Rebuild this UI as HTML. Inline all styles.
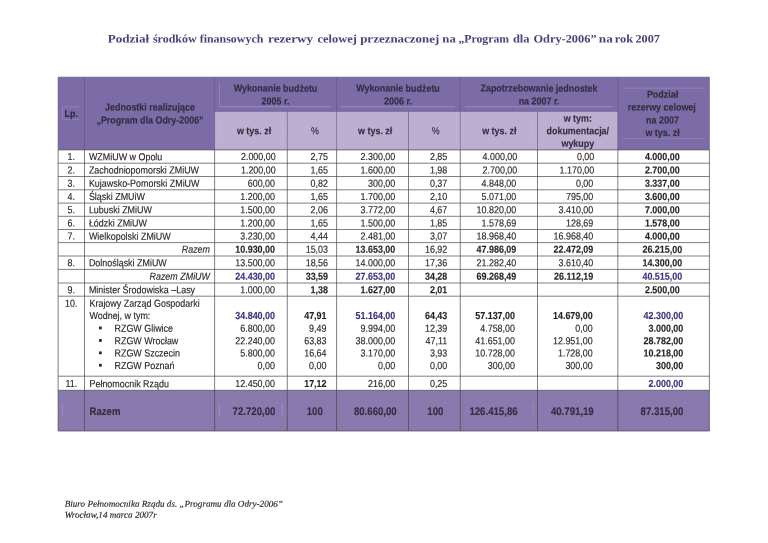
<!DOCTYPE html>
<html lang="pl"><head><meta charset="utf-8"><title>Podział środków finansowych rezerwy celowej</title>
<style>
html,body{margin:0;padding:0;background:#fff}
body{width:768px;height:543px;position:relative;overflow:hidden;font-family:"Liberation Sans",Arial,sans-serif;color:#231f20}
.g{position:absolute;left:0;top:0}
.t{font-size:10.2px;color:#231f20}
.t text{fill:currentColor;stroke:currentColor;stroke-width:.14px}
.h{font-weight:bold;color:#322d40}
.bd{font-weight:bold}
.it{font-style:italic}
.ttl{font-family:"Liberation Serif",serif;font-weight:bold;font-size:11.4px;fill:#47427f;text-anchor:middle}
.ftl{font-family:"Liberation Serif",serif;font-style:italic;font-size:9.12px;fill:#262626;stroke:#262626;stroke-width:.15px}
</style></head><body>
<svg class="g" width="768" height="543" viewBox="0 0 768 543">
<rect x="58.10" y="77.10" width="651.30" height="72.80" fill="#7b6ba6"/>
<rect x="214.60" y="111.40" width="403.20" height="38.50" fill="#bdafd2"/>
<rect x="58.10" y="390.30" width="651.30" height="40.70" fill="#8a79ae"/>
<rect x="99.10" y="326.55" width="2.60" height="2.80" fill="#231f20"/>
<rect x="99.10" y="339.05" width="2.60" height="2.80" fill="#231f20"/>
<rect x="99.10" y="351.45" width="2.60" height="2.80" fill="#231f20"/>
<rect x="99.10" y="363.85" width="2.60" height="2.80" fill="#231f20"/>
<line x1="219.50" y1="82.00" x2="219.50" y2="106.70" stroke="#9a8cc0" stroke-width="0.7"/>
<line x1="219.50" y1="106.80" x2="331.00" y2="106.80" stroke="#9a8cc0" stroke-width="1.1"/>
<line x1="341.25" y1="106.80" x2="455.00" y2="106.80" stroke="#9a8cc0" stroke-width="1.1"/>
<line x1="465.00" y1="106.80" x2="612.60" y2="106.80" stroke="#9a8cc0" stroke-width="1.1"/>
<line x1="622.90" y1="88.20" x2="704.80" y2="88.20" stroke="#9a8cc0" stroke-width="0.7"/>
<line x1="622.90" y1="138.60" x2="704.80" y2="138.60" stroke="#9a8cc0" stroke-width="0.7"/>
<line x1="62.40" y1="106.90" x2="79.25" y2="106.90" stroke="#9a8cc0" stroke-width="0.7"/>
<line x1="62.40" y1="119.40" x2="79.25" y2="119.40" stroke="#9a8cc0" stroke-width="0.7"/>
<line x1="62.40" y1="106.90" x2="62.40" y2="119.40" stroke="#9a8cc0" stroke-width="0.7"/>
<line x1="219.50" y1="124.00" x2="219.50" y2="136.60" stroke="#cbc1de" stroke-width="0.5"/>
<line x1="282.75" y1="124.00" x2="282.75" y2="136.60" stroke="#cbc1de" stroke-width="0.5"/>
<line x1="532.25" y1="124.00" x2="532.25" y2="136.60" stroke="#cbc1de" stroke-width="0.5"/>
<line x1="62.40" y1="403.75" x2="62.40" y2="416.50" stroke="#a899c6" stroke-width="0.7"/>
<line x1="219.30" y1="403.30" x2="219.30" y2="416.70" stroke="#a899c6" stroke-width="0.7"/>
<line x1="282.30" y1="403.30" x2="282.30" y2="416.70" stroke="#a899c6" stroke-width="0.7"/>
<line x1="533.30" y1="403.30" x2="533.30" y2="416.70" stroke="#a899c6" stroke-width="0.5"/>
<line x1="58.10" y1="163.20" x2="709.40" y2="163.20" stroke="#484848" stroke-width="0.7"/>
<line x1="58.10" y1="176.50" x2="709.40" y2="176.50" stroke="#484848" stroke-width="0.7"/>
<line x1="58.10" y1="189.80" x2="709.40" y2="189.80" stroke="#484848" stroke-width="0.7"/>
<line x1="58.10" y1="203.10" x2="709.40" y2="203.10" stroke="#484848" stroke-width="0.7"/>
<line x1="58.10" y1="216.30" x2="709.40" y2="216.30" stroke="#484848" stroke-width="0.7"/>
<line x1="58.10" y1="229.50" x2="709.40" y2="229.50" stroke="#484848" stroke-width="0.7"/>
<line x1="58.10" y1="242.60" x2="709.40" y2="242.60" stroke="#484848" stroke-width="0.7"/>
<line x1="58.10" y1="256.00" x2="709.40" y2="256.00" stroke="#484848" stroke-width="0.7"/>
<line x1="58.10" y1="269.40" x2="709.40" y2="269.40" stroke="#484848" stroke-width="0.7"/>
<line x1="58.10" y1="283.00" x2="709.40" y2="283.00" stroke="#484848" stroke-width="0.7"/>
<line x1="58.10" y1="296.20" x2="709.40" y2="296.20" stroke="#484848" stroke-width="0.7"/>
<line x1="58.10" y1="376.20" x2="709.40" y2="376.20" stroke="#484848" stroke-width="0.7"/>
<line x1="58.10" y1="77.10" x2="709.40" y2="77.10" stroke="#6a6388" stroke-width="0.6"/>
<line x1="58.10" y1="149.90" x2="709.40" y2="149.90" stroke="#484848" stroke-width="0.7"/>
<line x1="58.10" y1="390.30" x2="709.40" y2="390.30" stroke="#484848" stroke-width="0.7"/>
<line x1="58.10" y1="431.00" x2="709.40" y2="431.00" stroke="#484848" stroke-width="0.7"/>
<line x1="214.60" y1="111.40" x2="617.80" y2="111.40" stroke="#6a5f8e" stroke-width="0.6"/>
<line x1="58.10" y1="77.10" x2="58.10" y2="149.90" stroke="#5f567f" stroke-width="0.6"/>
<line x1="58.10" y1="149.90" x2="58.10" y2="431.00" stroke="#484848" stroke-width="0.7"/>
<line x1="84.50" y1="77.10" x2="84.50" y2="149.90" stroke="#5f567f" stroke-width="0.6"/>
<line x1="84.50" y1="149.90" x2="84.50" y2="431.00" stroke="#484848" stroke-width="0.7"/>
<line x1="214.60" y1="77.10" x2="214.60" y2="149.90" stroke="#5f567f" stroke-width="0.6"/>
<line x1="214.60" y1="149.90" x2="214.60" y2="431.00" stroke="#484848" stroke-width="0.7"/>
<line x1="287.30" y1="111.40" x2="287.30" y2="149.90" stroke="#5a5470" stroke-width="0.6"/>
<line x1="287.30" y1="149.90" x2="287.30" y2="431.00" stroke="#484848" stroke-width="0.7"/>
<line x1="336.60" y1="77.10" x2="336.60" y2="149.90" stroke="#5f567f" stroke-width="0.6"/>
<line x1="336.60" y1="149.90" x2="336.60" y2="431.00" stroke="#484848" stroke-width="0.7"/>
<line x1="408.50" y1="111.40" x2="408.50" y2="149.90" stroke="#5a5470" stroke-width="0.6"/>
<line x1="408.50" y1="149.90" x2="408.50" y2="431.00" stroke="#484848" stroke-width="0.7"/>
<line x1="460.25" y1="77.10" x2="460.25" y2="149.90" stroke="#5f567f" stroke-width="0.6"/>
<line x1="460.25" y1="149.90" x2="460.25" y2="431.00" stroke="#484848" stroke-width="0.7"/>
<line x1="537.50" y1="111.40" x2="537.50" y2="149.90" stroke="#5a5470" stroke-width="0.6"/>
<line x1="537.50" y1="149.90" x2="537.50" y2="431.00" stroke="#484848" stroke-width="0.7"/>
<line x1="617.80" y1="77.10" x2="617.80" y2="149.90" stroke="#5f567f" stroke-width="0.6"/>
<line x1="617.80" y1="149.90" x2="617.80" y2="431.00" stroke="#484848" stroke-width="0.7"/>
<line x1="709.40" y1="77.10" x2="709.40" y2="149.90" stroke="#5f567f" stroke-width="0.6"/>
<line x1="709.40" y1="149.90" x2="709.40" y2="431.00" stroke="#484848" stroke-width="0.7"/>
<g class="t">
<text transform="translate(71.25,116.97) rotate(0.05) scale(0.876,1)" text-anchor="middle" class="h">Lp.</text>
<text transform="translate(150.00,110.47) rotate(0.05) scale(0.876,1)" text-anchor="middle" class="h">Jednostki realizujące</text>
<text transform="translate(150.00,123.47) rotate(0.05) scale(0.876,1)" text-anchor="middle" class="h">„Program dla Odry-2006”</text>
<text transform="translate(275.50,91.62) rotate(0.05) scale(0.876,1)" text-anchor="middle" class="h">Wykonanie budżetu</text>
<text transform="translate(275.50,104.47) rotate(0.05) scale(0.876,1)" text-anchor="middle" class="h">2005 r.</text>
<text transform="translate(398.00,91.62) rotate(0.05) scale(0.876,1)" text-anchor="middle" class="h">Wykonanie budżetu</text>
<text transform="translate(398.00,104.47) rotate(0.05) scale(0.876,1)" text-anchor="middle" class="h">2006 r.</text>
<text transform="translate(539.00,91.62) rotate(0.05) scale(0.876,1)" text-anchor="middle" class="h">Zapotrzebowanie jednostek</text>
<text transform="translate(539.00,104.47) rotate(0.05) scale(0.876,1)" text-anchor="middle" class="h">na 2007 r.</text>
<text transform="translate(254.00,134.17) rotate(0.05) scale(0.876,1)" text-anchor="middle" class="h">w tys. zł</text>
<text transform="translate(314.90,134.17) rotate(0.05) scale(0.876,1)" text-anchor="middle" style="color:#322d40">%</text>
<text transform="translate(375.20,134.17) rotate(0.05) scale(0.876,1)" text-anchor="middle" class="h">w tys. zł</text>
<text transform="translate(435.60,134.17) rotate(0.05) scale(0.876,1)" text-anchor="middle" style="color:#322d40">%</text>
<text transform="translate(499.25,134.17) rotate(0.05) scale(0.876,1)" text-anchor="middle" class="h">w tys. zł</text>
<text transform="translate(577.80,121.67) rotate(0.05) scale(0.876,1)" text-anchor="middle" class="h">w tym:</text>
<text transform="translate(577.80,134.17) rotate(0.05) scale(0.876,1)" text-anchor="middle" class="h">dokumentacja/</text>
<text transform="translate(577.80,146.87) rotate(0.05) scale(0.876,1)" text-anchor="middle" class="h">wykupy</text>
<text transform="translate(662.50,97.67) rotate(0.05) scale(0.876,1)" text-anchor="middle" class="h">Podział</text>
<text transform="translate(661.80,110.57) rotate(0.05) scale(0.876,1)" text-anchor="middle" class="h">rezerwy celowej</text>
<text transform="translate(662.50,123.47) rotate(0.05) scale(0.876,1)" text-anchor="middle" class="h">na 2007</text>
<text transform="translate(662.50,136.07) rotate(0.05) scale(0.876,1)" text-anchor="middle" class="h">w tys. zł</text>
<text transform="translate(71.30,160.12) rotate(0.05) scale(0.876,1)" text-anchor="middle">1.</text>
<text transform="translate(88.90,160.12) rotate(0.05) scale(0.876,1)">WZMiUW w Opolu</text>
<text transform="translate(275.70,160.12) rotate(0.05) scale(0.876,1)" text-anchor="end">2.000,00</text>
<text transform="translate(328.00,160.12) rotate(0.05) scale(0.876,1)" text-anchor="end">2,75</text>
<text transform="translate(395.30,160.12) rotate(0.05) scale(0.876,1)" text-anchor="end">2.300,00</text>
<text transform="translate(447.30,160.12) rotate(0.05) scale(0.876,1)" text-anchor="end">2,85</text>
<text transform="translate(517.30,160.12) rotate(0.05) scale(0.876,1)" text-anchor="end">4.000,00</text>
<text transform="translate(594.30,160.12) rotate(0.05) scale(0.876,1)" text-anchor="end">0,00</text>
<text transform="translate(662.30,160.12) rotate(0.05) scale(0.876,1)" text-anchor="middle" class="bd">4.000,00</text>
<text transform="translate(71.30,173.42) rotate(0.05) scale(0.876,1)" text-anchor="middle">2.</text>
<text transform="translate(88.90,173.42) rotate(0.05) scale(0.876,1)">Zachodniopomorski ZMiUW</text>
<text transform="translate(275.70,173.42) rotate(0.05) scale(0.876,1)" text-anchor="end">1.200,00</text>
<text transform="translate(328.00,173.42) rotate(0.05) scale(0.876,1)" text-anchor="end">1,65</text>
<text transform="translate(395.30,173.42) rotate(0.05) scale(0.876,1)" text-anchor="end">1.600,00</text>
<text transform="translate(447.30,173.42) rotate(0.05) scale(0.876,1)" text-anchor="end">1,98</text>
<text transform="translate(517.30,173.42) rotate(0.05) scale(0.876,1)" text-anchor="end">2.700,00</text>
<text transform="translate(594.30,173.42) rotate(0.05) scale(0.876,1)" text-anchor="end">1.170,00</text>
<text transform="translate(662.30,173.42) rotate(0.05) scale(0.876,1)" text-anchor="middle" class="bd">2.700,00</text>
<text transform="translate(71.30,186.72) rotate(0.05) scale(0.876,1)" text-anchor="middle">3.</text>
<text transform="translate(88.90,186.72) rotate(0.05) scale(0.876,1)">Kujawsko-Pomorski ZMiUW</text>
<text transform="translate(275.00,186.72) rotate(0.05) scale(0.876,1)" text-anchor="end">600,00</text>
<text transform="translate(328.00,186.72) rotate(0.05) scale(0.876,1)" text-anchor="end">0,82</text>
<text transform="translate(395.30,186.72) rotate(0.05) scale(0.876,1)" text-anchor="end">300,00</text>
<text transform="translate(447.30,186.72) rotate(0.05) scale(0.876,1)" text-anchor="end">0,37</text>
<text transform="translate(516.30,186.72) rotate(0.05) scale(0.876,1)" text-anchor="end">4.848,00</text>
<text transform="translate(593.30,186.72) rotate(0.05) scale(0.876,1)" text-anchor="end">0,00</text>
<text transform="translate(662.30,186.72) rotate(0.05) scale(0.876,1)" text-anchor="middle" class="bd">3.337,00</text>
<text transform="translate(71.30,200.02) rotate(0.05) scale(0.876,1)" text-anchor="middle">4.</text>
<text transform="translate(88.90,200.02) rotate(0.05) scale(0.876,1)">Śląski ZMUiW</text>
<text transform="translate(275.00,200.02) rotate(0.05) scale(0.876,1)" text-anchor="end">1.200,00</text>
<text transform="translate(328.00,200.02) rotate(0.05) scale(0.876,1)" text-anchor="end">1,65</text>
<text transform="translate(395.30,200.02) rotate(0.05) scale(0.876,1)" text-anchor="end">1.700,00</text>
<text transform="translate(447.30,200.02) rotate(0.05) scale(0.876,1)" text-anchor="end">2,10</text>
<text transform="translate(516.30,200.02) rotate(0.05) scale(0.876,1)" text-anchor="end">5.071,00</text>
<text transform="translate(593.30,200.02) rotate(0.05) scale(0.876,1)" text-anchor="end">795,00</text>
<text transform="translate(662.30,200.02) rotate(0.05) scale(0.876,1)" text-anchor="middle" class="bd">3.600,00</text>
<text transform="translate(71.30,213.27) rotate(0.05) scale(0.876,1)" text-anchor="middle">5.</text>
<text transform="translate(88.90,213.27) rotate(0.05) scale(0.876,1)">Lubuski ZMiUW</text>
<text transform="translate(275.00,213.27) rotate(0.05) scale(0.876,1)" text-anchor="end">1.500,00</text>
<text transform="translate(328.00,213.27) rotate(0.05) scale(0.876,1)" text-anchor="end">2,06</text>
<text transform="translate(395.30,213.27) rotate(0.05) scale(0.876,1)" text-anchor="end">3.772,00</text>
<text transform="translate(447.30,213.27) rotate(0.05) scale(0.876,1)" text-anchor="end">4,67</text>
<text transform="translate(516.30,213.27) rotate(0.05) scale(0.876,1)" text-anchor="end">10.820,00</text>
<text transform="translate(593.30,213.27) rotate(0.05) scale(0.876,1)" text-anchor="end">3.410,00</text>
<text transform="translate(662.30,213.27) rotate(0.05) scale(0.876,1)" text-anchor="middle" class="bd">7.000,00</text>
<text transform="translate(71.30,226.47) rotate(0.05) scale(0.876,1)" text-anchor="middle">6.</text>
<text transform="translate(88.90,226.47) rotate(0.05) scale(0.876,1)">Łódzki ZMiUW</text>
<text transform="translate(275.00,226.47) rotate(0.05) scale(0.876,1)" text-anchor="end">1.200,00</text>
<text transform="translate(328.00,226.47) rotate(0.05) scale(0.876,1)" text-anchor="end">1,65</text>
<text transform="translate(395.30,226.47) rotate(0.05) scale(0.876,1)" text-anchor="end">1.500,00</text>
<text transform="translate(447.30,226.47) rotate(0.05) scale(0.876,1)" text-anchor="end">1,85</text>
<text transform="translate(516.30,226.47) rotate(0.05) scale(0.876,1)" text-anchor="end">1.578,69</text>
<text transform="translate(593.30,226.47) rotate(0.05) scale(0.876,1)" text-anchor="end">128,69</text>
<text transform="translate(662.30,226.47) rotate(0.05) scale(0.876,1)" text-anchor="middle" class="bd">1.578,00</text>
<text transform="translate(71.30,239.62) rotate(0.05) scale(0.876,1)" text-anchor="middle">7.</text>
<text transform="translate(88.90,239.62) rotate(0.05) scale(0.876,1)">Wielkopolski ZMiUW</text>
<text transform="translate(275.00,239.62) rotate(0.05) scale(0.876,1)" text-anchor="end">3.230,00</text>
<text transform="translate(328.00,239.62) rotate(0.05) scale(0.876,1)" text-anchor="end">4,44</text>
<text transform="translate(395.30,239.62) rotate(0.05) scale(0.876,1)" text-anchor="end">2.481,00</text>
<text transform="translate(447.30,239.62) rotate(0.05) scale(0.876,1)" text-anchor="end">3,07</text>
<text transform="translate(516.30,239.62) rotate(0.05) scale(0.876,1)" text-anchor="end">18.968,40</text>
<text transform="translate(593.30,239.62) rotate(0.05) scale(0.876,1)" text-anchor="end">16.968,40</text>
<text transform="translate(662.30,239.62) rotate(0.05) scale(0.876,1)" text-anchor="middle" class="bd">4.000,00</text>
<text transform="translate(210.00,252.87) rotate(0.05) scale(0.876,1)" text-anchor="end" class="it">Razem</text>
<text transform="translate(275.00,252.87) rotate(0.05) scale(0.876,1)" text-anchor="end" class="bd">10.930,00</text>
<text transform="translate(328.00,252.87) rotate(0.05) scale(0.876,1)" text-anchor="end">15,03</text>
<text transform="translate(395.30,252.87) rotate(0.05) scale(0.876,1)" text-anchor="end" class="bd">13.653,00</text>
<text transform="translate(447.30,252.87) rotate(0.05) scale(0.876,1)" text-anchor="end">16,92</text>
<text transform="translate(516.30,252.87) rotate(0.05) scale(0.876,1)" text-anchor="end" class="bd">47.986,09</text>
<text transform="translate(593.30,252.87) rotate(0.05) scale(0.876,1)" text-anchor="end" class="bd">22.472,09</text>
<text transform="translate(662.30,252.87) rotate(0.05) scale(0.876,1)" text-anchor="middle" class="bd">26.215,00</text>
<text transform="translate(71.30,266.27) rotate(0.05) scale(0.876,1)" text-anchor="middle">8.</text>
<text transform="translate(88.90,266.27) rotate(0.05) scale(0.876,1)">Dolnośląski ZMiUW</text>
<text transform="translate(275.00,266.27) rotate(0.05) scale(0.876,1)" text-anchor="end">13.500,00</text>
<text transform="translate(328.00,266.27) rotate(0.05) scale(0.876,1)" text-anchor="end">18,56</text>
<text transform="translate(395.30,266.27) rotate(0.05) scale(0.876,1)" text-anchor="end">14.000,00</text>
<text transform="translate(447.30,266.27) rotate(0.05) scale(0.876,1)" text-anchor="end">17,36</text>
<text transform="translate(516.30,266.27) rotate(0.05) scale(0.876,1)" text-anchor="end">21.282,40</text>
<text transform="translate(593.30,266.27) rotate(0.05) scale(0.876,1)" text-anchor="end">3.610,40</text>
<text transform="translate(662.30,266.27) rotate(0.05) scale(0.876,1)" text-anchor="middle" class="bd">14.300,00</text>
<text transform="translate(210.00,279.77) rotate(0.05) scale(0.876,1)" text-anchor="end" class="it">Razem ZMiUW</text>
<text transform="translate(275.00,279.77) rotate(0.05) scale(0.876,1)" text-anchor="end" class="bd" style="color:#38337c">24.430,00</text>
<text transform="translate(328.00,279.77) rotate(0.05) scale(0.876,1)" text-anchor="end" class="bd">33,59</text>
<text transform="translate(395.30,279.77) rotate(0.05) scale(0.876,1)" text-anchor="end" class="bd" style="color:#38337c">27.653,00</text>
<text transform="translate(447.30,279.77) rotate(0.05) scale(0.876,1)" text-anchor="end" class="bd">34,28</text>
<text transform="translate(516.30,279.77) rotate(0.05) scale(0.876,1)" text-anchor="end" class="bd">69.268,49</text>
<text transform="translate(593.30,279.77) rotate(0.05) scale(0.876,1)" text-anchor="end" class="bd">26.112,19</text>
<text transform="translate(662.30,279.77) rotate(0.05) scale(0.876,1)" text-anchor="middle" class="bd" style="color:#38337c">40.515,00</text>
<text transform="translate(71.30,293.17) rotate(0.05) scale(0.876,1)" text-anchor="middle">9.</text>
<text transform="translate(88.90,293.17) rotate(0.05) scale(0.876,1)">Minister Środowiska –Lasy</text>
<text transform="translate(275.00,293.17) rotate(0.05) scale(0.876,1)" text-anchor="end">1.000,00</text>
<text transform="translate(328.00,293.17) rotate(0.05) scale(0.876,1)" text-anchor="end" class="bd">1,38</text>
<text transform="translate(395.30,293.17) rotate(0.05) scale(0.876,1)" text-anchor="end" class="bd">1.627,00</text>
<text transform="translate(447.30,293.17) rotate(0.05) scale(0.876,1)" text-anchor="end" class="bd">2,01</text>
<text transform="translate(662.30,293.17) rotate(0.05) scale(0.876,1)" text-anchor="middle" class="bd">2.500,00</text>
<text transform="translate(71.30,306.67) rotate(0.05) scale(0.876,1)" text-anchor="middle">10.</text>
<text transform="translate(89.50,306.67) rotate(0.05) scale(0.876,1)">Krajowy Zarząd Gospodarki</text>
<text transform="translate(89.50,319.07) rotate(0.05) scale(0.876,1)">Wodnej, w tym:</text>
<text transform="translate(114.50,331.67) rotate(0.05) scale(0.876,1)">RZGW Gliwice</text>
<text transform="translate(114.50,344.17) rotate(0.05) scale(0.876,1)">RZGW Wrocław</text>
<text transform="translate(114.50,356.57) rotate(0.05) scale(0.876,1)">RZGW Szczecin</text>
<text transform="translate(114.50,368.97) rotate(0.05) scale(0.876,1)">RZGW Poznań</text>
<text transform="translate(275.00,319.07) rotate(0.05) scale(0.876,1)" text-anchor="end" class="bd" style="color:#38337c">34.840,00</text>
<text transform="translate(326.50,319.07) rotate(0.05) scale(0.876,1)" text-anchor="end" class="bd">47,91</text>
<text transform="translate(395.30,319.07) rotate(0.05) scale(0.876,1)" text-anchor="end" class="bd" style="color:#38337c">51.164,00</text>
<text transform="translate(447.30,319.07) rotate(0.05) scale(0.876,1)" text-anchor="end" class="bd">64,43</text>
<text transform="translate(515.00,319.07) rotate(0.05) scale(0.876,1)" text-anchor="end" class="bd">57.137,00</text>
<text transform="translate(592.70,319.07) rotate(0.05) scale(0.876,1)" text-anchor="end" class="bd">14.679,00</text>
<text transform="translate(683.30,319.07) rotate(0.05) scale(0.876,1)" text-anchor="end" class="bd" style="color:#38337c">42.300,00</text>
<text transform="translate(275.00,331.67) rotate(0.05) scale(0.876,1)" text-anchor="end">6.800,00</text>
<text transform="translate(326.50,331.67) rotate(0.05) scale(0.876,1)" text-anchor="end">9,49</text>
<text transform="translate(395.30,331.67) rotate(0.05) scale(0.876,1)" text-anchor="end">9.994,00</text>
<text transform="translate(447.30,331.67) rotate(0.05) scale(0.876,1)" text-anchor="end">12,39</text>
<text transform="translate(515.00,331.67) rotate(0.05) scale(0.876,1)" text-anchor="end">4.758,00</text>
<text transform="translate(592.70,331.67) rotate(0.05) scale(0.876,1)" text-anchor="end">0,00</text>
<text transform="translate(683.30,331.67) rotate(0.05) scale(0.876,1)" text-anchor="end" class="bd">3.000,00</text>
<text transform="translate(275.00,344.17) rotate(0.05) scale(0.876,1)" text-anchor="end">22.240,00</text>
<text transform="translate(326.50,344.17) rotate(0.05) scale(0.876,1)" text-anchor="end">63,83</text>
<text transform="translate(395.30,344.17) rotate(0.05) scale(0.876,1)" text-anchor="end">38.000,00</text>
<text transform="translate(447.30,344.17) rotate(0.05) scale(0.876,1)" text-anchor="end">47,11</text>
<text transform="translate(515.00,344.17) rotate(0.05) scale(0.876,1)" text-anchor="end">41.651,00</text>
<text transform="translate(592.70,344.17) rotate(0.05) scale(0.876,1)" text-anchor="end">12.951,00</text>
<text transform="translate(683.30,344.17) rotate(0.05) scale(0.876,1)" text-anchor="end" class="bd">28.782,00</text>
<text transform="translate(275.00,356.57) rotate(0.05) scale(0.876,1)" text-anchor="end">5.800,00</text>
<text transform="translate(326.50,356.57) rotate(0.05) scale(0.876,1)" text-anchor="end">16,64</text>
<text transform="translate(395.30,356.57) rotate(0.05) scale(0.876,1)" text-anchor="end">3.170,00</text>
<text transform="translate(447.30,356.57) rotate(0.05) scale(0.876,1)" text-anchor="end">3,93</text>
<text transform="translate(515.00,356.57) rotate(0.05) scale(0.876,1)" text-anchor="end">10.728,00</text>
<text transform="translate(592.70,356.57) rotate(0.05) scale(0.876,1)" text-anchor="end">1.728,00</text>
<text transform="translate(683.30,356.57) rotate(0.05) scale(0.876,1)" text-anchor="end" class="bd">10.218,00</text>
<text transform="translate(275.00,368.97) rotate(0.05) scale(0.876,1)" text-anchor="end">0,00</text>
<text transform="translate(326.50,368.97) rotate(0.05) scale(0.876,1)" text-anchor="end">0,00</text>
<text transform="translate(395.30,368.97) rotate(0.05) scale(0.876,1)" text-anchor="end">0,00</text>
<text transform="translate(447.30,368.97) rotate(0.05) scale(0.876,1)" text-anchor="end">0,00</text>
<text transform="translate(515.00,368.97) rotate(0.05) scale(0.876,1)" text-anchor="end">300,00</text>
<text transform="translate(592.70,368.97) rotate(0.05) scale(0.876,1)" text-anchor="end">300,00</text>
<text transform="translate(683.30,368.97) rotate(0.05) scale(0.876,1)" text-anchor="end" class="bd">300,00</text>
<text transform="translate(71.30,387.12) rotate(0.05) scale(0.876,1)" text-anchor="middle">11.</text>
<text transform="translate(89.50,387.12) rotate(0.05) scale(0.876,1)">Pełnomocnik Rządu</text>
<text transform="translate(275.00,387.12) rotate(0.05) scale(0.876,1)" text-anchor="end">12.450,00</text>
<text transform="translate(326.50,387.12) rotate(0.05) scale(0.876,1)" text-anchor="end" class="bd">17,12</text>
<text transform="translate(395.30,387.12) rotate(0.05) scale(0.876,1)" text-anchor="end">216,00</text>
<text transform="translate(447.30,387.12) rotate(0.05) scale(0.876,1)" text-anchor="end">0,25</text>
<text transform="translate(683.30,387.12) rotate(0.05) scale(0.876,1)" text-anchor="end" class="bd" style="color:#38337c">2.000,00</text>
<text transform="translate(89.50,415.00) rotate(0.05) scale(0.876,1)" class="h" font-size="11.0">Razem</text>
<text transform="translate(254.00,415.00) rotate(0.05) scale(0.876,1)" text-anchor="middle" class="h" font-size="11.0">72.720,00</text>
<text transform="translate(314.70,415.00) rotate(0.05) scale(0.876,1)" text-anchor="middle" class="h" font-size="11.0">100</text>
<text transform="translate(375.30,415.00) rotate(0.05) scale(0.876,1)" text-anchor="middle" class="h" font-size="11.0">80.660,00</text>
<text transform="translate(435.30,415.00) rotate(0.05) scale(0.876,1)" text-anchor="middle" class="h" font-size="11.0">100</text>
<text transform="translate(493.50,415.00) rotate(0.05) scale(0.876,1)" text-anchor="middle" class="h" font-size="11.0">126.415,86</text>
<text transform="translate(572.30,415.00) rotate(0.05) scale(0.876,1)" text-anchor="middle" class="h" font-size="11.0">40.791,19</text>
<text transform="translate(662.00,415.00) rotate(0.05) scale(0.876,1)" text-anchor="middle" class="h" font-size="11.0">87.315,00</text>
</g>
<g class="ttl">
<text transform="translate(128.38,42.6) rotate(0.05) scale(1.149,1)">Podział</text>
<text transform="translate(174.75,42.6) rotate(0.05) scale(1.051,1)">środków</text>
<text transform="translate(231.50,42.6) rotate(0.05) scale(1.048,1)">finansowych</text>
<text transform="translate(290.62,42.6) rotate(0.05) scale(1.160,1)">rezerwy</text>
<text transform="translate(337.12,42.6) rotate(0.05) scale(1.094,1)">celowej</text>
<text transform="translate(399.75,42.6) rotate(0.05) scale(1.138,1)">przeznaczonej</text>
<text transform="translate(449.05,42.6) rotate(0.05) scale(1.122,1)">na</text>
<text transform="translate(483.75,42.6) rotate(0.05) scale(1.031,1)">„Program</text>
<text transform="translate(521.25,42.6) rotate(0.05) scale(1.098,1)">dla</text>
<text transform="translate(565.00,42.6) rotate(0.05) scale(1.085,1)">Odry-2006”</text>
<text transform="translate(605.83,42.6) rotate(0.05) scale(1.160,1)">na</text>
<text transform="translate(623.95,42.6) rotate(0.05) scale(1.084,1)">rok</text>
<text transform="translate(647.70,42.6) rotate(0.05) scale(1.079,1)">2007</text>
</g>
<g class="ftl">
<text transform="translate(64.7,506.7) rotate(0.05)">Biuro Pełnomocnika Rządu ds. „Programu dla Odry-2006”</text>
<text transform="translate(64.7,517.8) rotate(0.05)">Wrocław,14 marca 2007r</text>
</g>
</svg>

</body></html>
